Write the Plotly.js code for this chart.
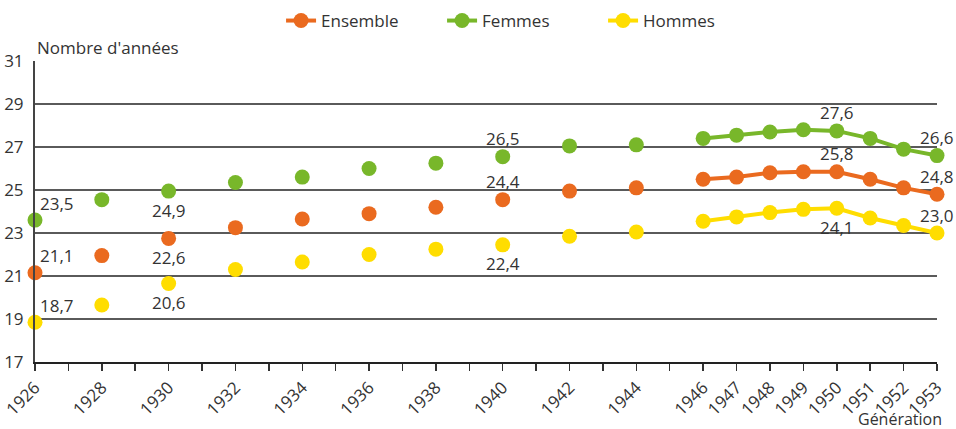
<!DOCTYPE html>
<html>
<head>
<meta charset="utf-8">
<script src="https://cdn.plot.ly/plotly-3.0.1.min.js"></script>
<style>html,body{margin:0;padding:0;background:#fff;}#chart{width:956px;height:429px;}</style>
</head>
<body>
<div id="chart"></div>
<script>
// Years 1926..1953 (null = no value for that generation)
const years = [1926,1927,1928,1929,1930,1931,1932,1933,1934,1935,1936,1937,1938,1939,1940,1941,1942,1943,1944,1945,1946,1947,1948,1949,1950,1951,1952,1953];
const tickLabelYears = [1926,1928,1930,1932,1934,1936,1938,1940,1942,1944,1946,1947,1948,1949,1950,1951,1952,1953];

const ensemble = [21.15,null,21.95,null,22.75,null,23.25,null,23.65,null,23.9,null,24.2,null,24.55,null,24.95,null,25.1,null,25.5,25.6,25.8,25.85,25.85,25.5,25.1,24.8];
const femmes   = [23.6,null,24.55,null,24.95,null,25.35,null,25.6,null,26.0,null,26.25,null,26.55,null,27.05,null,27.1,null,27.4,27.55,27.7,27.8,27.75,27.4,26.9,26.6];
const hommes   = [18.85,null,19.65,null,20.65,null,21.3,null,21.65,null,22.0,null,22.25,null,22.45,null,22.85,null,23.05,null,23.55,23.75,23.95,24.1,24.15,23.7,23.35,23.0];

// Data labels
const labelYears = [1926,1930,1940,1950,1953];
const ensembleLabels = ['21,1','22,6','24,4','25,8','24,8'];
const femmesLabels   = ['23,5','24,9','26,5','27,6','26,6'];
const hommesLabels   = ['18,7','20,6','22,4','24,1','23,0'];
const ensemblePos = ['right','below','above','above','above'];
const femmesPos   = ['right','below','above','above','above'];
const hommesPos   = ['right','below','below','below','above'];

const names = ['Ensemble','Femmes','Hommes'];
const colors = ['#EA6A1F','#78B72A','#FFDD00'];
const FONT = '"Open Sans", sans-serif';
const TXT = '#333333';
const FS = 17;

const series = [ensemble, femmes, hommes];
const traces = series.map((s,i)=>({
  type:'scatter', mode:'lines+markers', name:names[i],
  x:years, y:s, connectgaps:false, cliponaxis:false,
  line:{color:colors[i], width:4},
  marker:{color:colors[i], size:15}
}));

const annotations = [];
const labelSets = [[ensemble,ensembleLabels,ensemblePos],[femmes,femmesLabels,femmesPos],[hommes,hommesLabels,hommesPos]];
labelSets.forEach(([vals,labs,pos])=>{
  labelYears.forEach((yr,k)=>{
    const v = vals[years.indexOf(yr)];
    const p = pos[k];
    const a = {xref:'x', yref:'y', x:yr, y:v, text:labs[k], showarrow:false,
      font:{family:FONT, size:FS, color:TXT}, yanchor:'middle'};
    if(p==='right'){ a.xanchor='left'; a.xshift=3; a.yshift=17; }
    else if(p==='above'){ a.xanchor='center'; a.yshift=18; }
    else { a.xanchor='center'; a.yshift=-19; }
    annotations.push(a);
  });
});
annotations.push({xref:'paper', yref:'paper', x:0, y:1, xanchor:'left', yanchor:'middle', yshift:14,
  text:"Nombre d'années", showarrow:false, font:{family:FONT, size:FS, color:TXT}});
annotations.push({xref:'paper', yref:'paper', x:1, y:0, xanchor:'right', yanchor:'bottom', yshift:-69, xshift:6,
  borderpad:0, text:'Génération', showarrow:false, font:{family:FONT, size:16, color:TXT}});

const ticktext = years.map(y=> tickLabelYears.includes(y) ? String(y) : '');

const layout = {
  width:956, height:429,
  margin:{l:35, r:19, t:61, b:67},
  paper_bgcolor:'#fff', plot_bgcolor:'#fff',
  font:{family:FONT, size:FS, color:TXT},
  showlegend:true,
  legend:{orientation:'h', xref:'container', yref:'container', x:0.294, xanchor:'left', y:0.993, yanchor:'top',
    font:{family:FONT, size:FS, color:TXT}, entrywidth:116},
  xaxis:{type:'linear', range:[1926,1953], tickmode:'array', tickvals:years, ticktext:ticktext,
    tickangle:-45, ticks:'outside', ticklen:7, tickwidth:1.5, tickcolor:'#333',
    showline:true, linecolor:'#222', linewidth:2, showgrid:false, zeroline:false,
    tickfont:{family:FONT, size:FS, color:TXT}},
  yaxis:{range:[17,31], tickmode:'array', tickvals:[17,19,21,23,25,27,29,31],
    showgrid:true, gridcolor:'#5a5a5a', gridwidth:1.2, showline:true, linecolor:'#444', linewidth:2,
    ticks:'', zeroline:false, ticklabelstandoff:6, tickfont:{family:FONT, size:FS, color:TXT}},
  annotations:annotations
};

Plotly.newPlot('chart', traces, layout, {displayModeBar:false, staticPlot:true});
</script>
</body>
</html>
